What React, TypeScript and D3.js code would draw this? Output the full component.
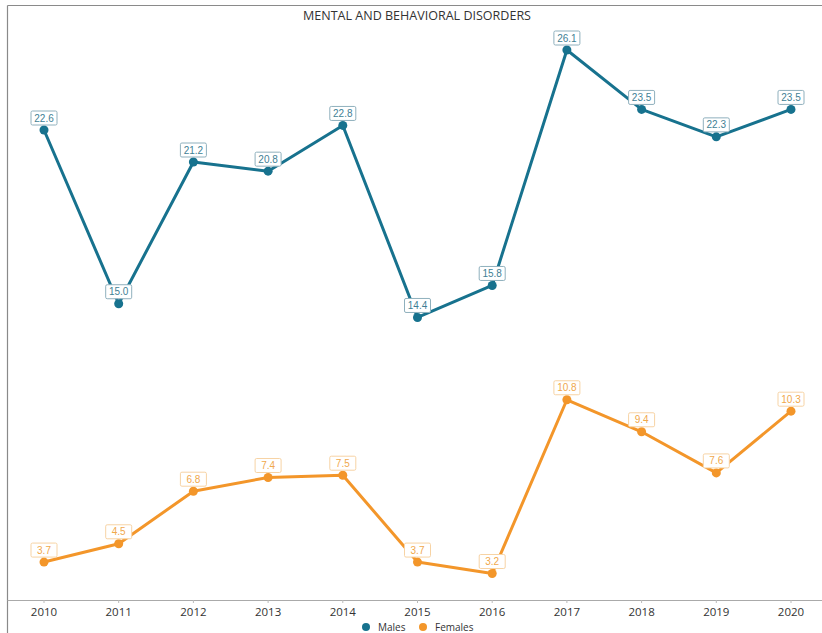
import React from "react";
import * as d3 from "d3";

const years = ["2010","2011","2012","2013","2014","2015","2016","2017","2018","2019","2020"];
const males = [22.6, 15.0, 21.2, 20.8, 22.8, 14.4, 15.8, 26.1, 23.5, 22.3, 23.5];
const females = [3.7, 4.5, 6.8, 7.4, 7.5, 3.7, 3.2, 10.8, 9.4, 7.6, 10.3];
const seriesNames = ["Males", "Females"];
const title = "MENTAL AND BEHAVIORAL DISORDERS";

const W = 822, H = 633;
const MALE = "#17728e";
const FEMALE = "#f3962a";

export default function App() {
  const x = d3.scalePoint<string>().domain(years).range([44, 791]);
  const y = d3.scaleLinear().domain([3.2, 26.1]).range([573.5, 50]);
  const line = d3.line<number>().x((_, i) => x(years[i])!).y(d => y(d));
  const font = "'Open Sans', sans-serif";
  const series = [
    { name: seriesNames[0], data: males, color: MALE, text: "#3f7f95", border: "#8fb0bd" },
    { name: seriesNames[1], data: females, color: FEMALE, text: "#f0a84c", border: "#f7d3a4" },
  ];
  return (
    <svg width={W} height={H} style={{ position: "absolute", left: 0, top: 0, background: "#fff" }}>
      <line x1={7.5} x2={W} y1={5.5} y2={5.5} stroke="#8a8a8a" strokeWidth={1.2} />
      <line x1={7.5} x2={7.5} y1={5.5} y2={H} stroke="#8a8a8a" strokeWidth={1.2} />
      <text x={417} y={20} textAnchor="middle" fontFamily={font} fontSize={12} fill="#333" textLength={228} lengthAdjust="spacingAndGlyphs">{title}</text>
      <line x1={7.5} x2={W} y1={600.5} y2={600.5} stroke="#aaaaaa" strokeWidth={1.2} />
      {years.map(yr => (
        <g key={yr}>
          <line x1={x(yr)!} x2={x(yr)!} y1={600} y2={603} stroke="#bbb" />
          <text x={x(yr)!} y={616} textAnchor="middle" fontFamily={font} fontSize={11.5} fill="#333">{yr}</text>
        </g>
      ))}
      {series.map(s => (
        <g key={s.name}>
          <path d={line(s.data)!} fill="none" stroke={s.color} strokeWidth={3} strokeLinejoin="round" />
          {s.data.map((v, i) => (
            <circle key={i} cx={x(years[i])!} cy={y(v)} r={4.5} fill={s.color} />
          ))}
          {s.data.map((v, i) => {
            const cx = x(years[i])!;
            const cy = y(v) - 12;
            return (
              <g key={"l" + i}>
                <rect x={cx - 13} y={cy - 7} width={26} height={14} rx={1.5} fill="#fff" stroke={s.border} strokeWidth={1} />
                <text x={cx} y={cy + 3.5} textAnchor="middle" fontFamily="'Liberation Sans', Arial, sans-serif" fontSize={10} fill={s.text}>{v.toFixed(1)}</text>
              </g>
            );
          })}
        </g>
      ))}
      <g fontFamily={font} fontSize={10} fill="#333">
        <circle cx={366} cy={627} r={4} fill={MALE} />
        <text x={378} y={630.5}>{seriesNames[0]}</text>
        <circle cx={423} cy={627} r={4} fill={FEMALE} />
        <text x={435} y={630.5}>{seriesNames[1]}</text>
      </g>
    </svg>
  );
}
